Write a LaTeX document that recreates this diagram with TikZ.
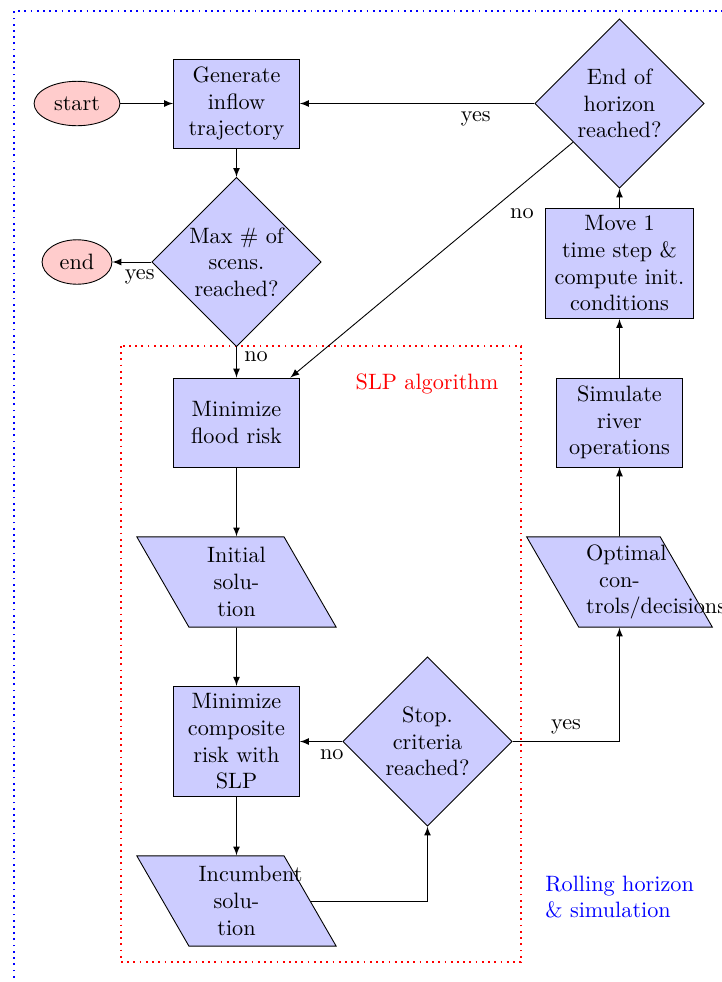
\documentclass[tikz,border=0pt]{standalone}
\usetikzlibrary{shapes.geometric}
\begin{document}
\begin{tikzpicture}[x=0.45pt,y=-0.45pt,
  block/.style={rectangle, draw, fill=blue!20, text width=5em, align=center, minimum height=4em},
  wideblock/.style={block, text width=6em},
  decision/.style={diamond, draw, fill=blue!20, text width=4.5em, text badly centered, inner sep=0pt},
  io/.style={trapezium, trapezium left angle=120, trapezium right angle=60,
    draw, fill=blue!20, align=center,
    text width=34pt, inner xsep=4.4pt, inner ysep=4.78pt},
  cloud/.style={ellipse, draw, fill=red!20, minimum height=2em},
  line/.style={draw, -latex},
  frame/.style={thick, dotted}]
\useasboundingbox (0,0) rectangle (722,982);

% outer frame and SLP frame
\draw[frame, blue] (14,990) -- (14,11) -- (730,11);
\draw[frame, red] (121,346) rectangle (521,962);
\node[red] (slplabel) at (427,384) {SLP algorithm};
\node[blue, align=left, anchor=west] (rhlabel) at (537.5,897) {Rolling horizon\\ \& simulation};

% nodes
\node[cloud] (start) at (77,103.5) {start};
\node[block] (gen) at (236.5,103.5) {Generate inflow trajectory};
\node[decision] (maxsc) at (236.5,262) {Max \# of scens. reached?};
\node[cloud] (endn) at (77,262) {end};
\node[block] (minflood) at (236.5,422.5) {Minimize flood risk};
\node[io] (init) at (236.5,582) {Initial solution};
\node[block] (mincomp) at (236.5,741.5) {Minimize composite risk with SLP};
\node[io] (incumb) at (236.5,901) {Incumbent solution};
\node[decision] (stop) at (427.5,741.5) {Stop. criteria reached?};
\node[io, text width=30pt, inner xsep=3.333pt, inner ysep=3.53pt] (optimal) at (619.5,582) {Optimal controls/decisions};
\node[block] (simulate) at (619.5,422.5) {Simulate river operations};
\node[wideblock] (move) at (619.5,263.5) {Move 1\\ time step \& compute init. conditions};
\node[decision] (endh) at (619.5,103.5) {End of horizon reached?};

% connectors
\draw[line] (start) -- (gen);
\draw[line] (gen) -- (maxsc);
\draw[line] (maxsc) -- node[pos=0.3, below] {yes} (endn);
\draw[line] (maxsc) -- node[pos=0.3, right] {no} (minflood);
\draw[line] (endh) -- node[near start, below] {yes} (gen);
\draw[line] (endh) -- node[near start, below right] {no} (minflood);
\draw[line] (minflood) -- (init);
\draw[line] (init) -- (mincomp);
\draw[line] (mincomp) -- (incumb);
\draw[line] (incumb) -| (stop);
\draw[line] (stop) -- node[near start, below] {no} (mincomp);
\draw[line] (stop) -| node[near start, above] {yes} (optimal);
\draw[line] (optimal) -- (simulate);
\draw[line] (simulate) -- (move);
\draw[line] (move) -- (endh);
\end{tikzpicture}
\end{document}
